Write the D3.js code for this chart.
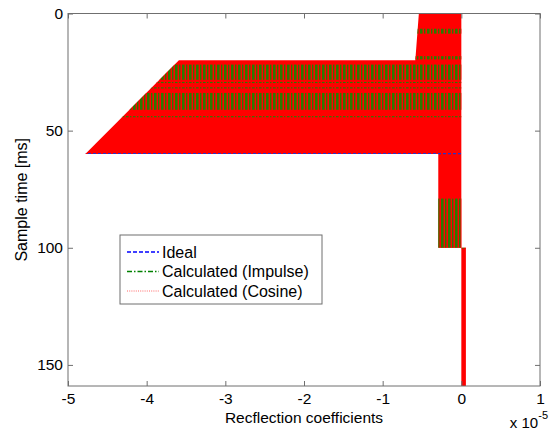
<html>
<head><meta charset="utf-8"></head>
<script src="https://d3js.org/d3.v7.min.js"></script>
<style>
body { margin: 0; background: white; }
svg { display: block; }
text { font-family: Arial, "Liberation Sans", sans-serif; fill: black; }
</style>
<body>
<svg width="550" height="430"></svg>
<script>
// tick values
var xTicks = [-5, -4, -3, -2, -1, 0, 1];
var yTicks = [0, 50, 100, 150];

// envelope of the dense "Cosine" trace (x in units of 1e-5, t in ms)
var cosineTime  = [0, 20, 20, 60, 60, 100, 100, 159];
var cosineLeft  = [-0.54, -0.585, -3.59, -4.78, -0.293, -0.293, 0, 0];
var cosineRight = [0, 0, 0, 0, 0, 0, 0.058, 0.058];

// time bands where the "Impulse" trace shows through
var impulseStart = [6.5, 18.2, 21.8, 29.2, 31.5, 33.9, 43.8, 79.0];
var impulseEnd   = [8.6, 19.6, 28.3, 29.7, 32.0, 41.1, 44.3, 100.3];

// time where the "Ideal" trace shows at an edge
var idealEdge = [60];

var legendNames  = ["Ideal", "Calculated (Impulse)", "Calculated (Cosine)"];
var legendColors = ["#0000ff", "#008000", "#ff0000"];
var legendDash   = ["4,2", "5,2,1.5,2", "1,1.2"];

var mLeft = 68, mRight = 540, mTop = 13.5, mBottom = 386;
var axisColor = "#6f6f6f";

var x = d3.scaleLinear().domain([-5, 1]).range([mLeft, mRight]);
var y = d3.scaleLinear().domain([0, 159]).range([mTop, mBottom]);

var svg = d3.select("svg");

var env = cosineTime.map(function(t, i) {
    return { t: t, l: cosineLeft[i], r: cosineRight[i] };
});

var area = d3.area()
    .y(function(d) { return y(d.t); })
    .x0(function(d) { return x(d.l); })
    .x1(function(d) { return x(d.r); });

var defs = svg.append("defs");
defs.append("clipPath").attr("id", "envClip")
    .append("path").attr("d", area(env));

var pat = defs.append("pattern")
    .attr("id", "stripes")
    .attr("patternUnits", "userSpaceOnUse")
    .attr("width", 7).attr("height", 10);
pat.append("rect").attr("width", 7).attr("height", 10).attr("fill", "#ff0000");
pat.append("rect").attr("x", 0).attr("width", 2.6).attr("height", 10).attr("fill", "#2c7a00");
pat.append("rect").attr("x", 4).attr("width", 1.4).attr("height", 10).attr("fill", "#2c7a00");

// red envelope
svg.append("path")
    .attr("d", area(env))
    .attr("fill", "#ff0000");

// impulse bands
svg.append("g").attr("clip-path", "url(#envClip)")
    .selectAll("rect")
    .data(impulseStart)
    .enter()
    .append("rect")
    .attr("x", x(-5))
    .attr("width", x(1) - x(-5))
    .attr("y", function(d) { return y(d); })
    .attr("height", function(d, i) { return Math.max(1, y(impulseEnd[i]) - y(d)); })
    .attr("fill", "url(#stripes)");

// ideal edge lines
svg.append("g").attr("clip-path", "url(#envClip)")
    .selectAll("line")
    .data(idealEdge)
    .enter()
    .append("line")
    .attr("x1", x(-5)).attr("x2", x(1))
    .attr("y1", function(d) { return y(d) - 0.5; })
    .attr("y2", function(d) { return y(d) - 0.5; })
    .attr("stroke", "#2233cc")
    .attr("stroke-width", 1.2)
    .attr("stroke-dasharray", "3,2");

// axes
var fmt = function(d) { return String(d); };
var xAxisB = d3.axisBottom(x).tickValues(xTicks).tickFormat(fmt).tickSizeInner(-5).tickSizeOuter(0).tickPadding(7);
var xAxisT = d3.axisTop(x).tickValues(xTicks).tickSizeInner(-5).tickSizeOuter(0).tickFormat("");
var yAxisL = d3.axisLeft(y).tickValues(yTicks).tickFormat(fmt).tickSizeInner(-5).tickSizeOuter(0).tickPadding(5);
var yAxisR = d3.axisRight(y).tickValues(yTicks).tickSizeInner(-5).tickSizeOuter(0).tickFormat("");

function styleAxis(g) {
    g.select(".domain").remove();
    g.selectAll("line").attr("stroke", axisColor);
    g.selectAll("text").attr("font-size", "15.5px").attr("fill", "black")
        .attr("font-family", "Arial, 'Liberation Sans', sans-serif");
}

svg.append("g").attr("transform", "translate(0," + mBottom + ")").call(xAxisB).call(styleAxis);
svg.append("g").attr("transform", "translate(0," + mTop + ")").call(xAxisT).call(styleAxis);
svg.append("g").attr("transform", "translate(" + mLeft + ",0)").call(yAxisL).call(styleAxis);
svg.append("g").attr("transform", "translate(" + mRight + ",0)").call(yAxisR).call(styleAxis);

svg.append("rect")
    .attr("x", mLeft).attr("y", mTop)
    .attr("width", mRight - mLeft).attr("height", mBottom - mTop)
    .attr("fill", "none")
    .attr("stroke", axisColor);

// labels
svg.append("text")
    .attr("x", (mLeft + mRight) / 2).attr("y", 423)
    .attr("text-anchor", "middle")
    .attr("font-size", "15.5px")
    .text("Recflection coefficients");

svg.append("text")
    .attr("transform", "translate(27," + (mTop + mBottom) / 2 + ") rotate(-90)")
    .attr("text-anchor", "middle")
    .attr("font-size", "16px")
    .text("Sample time [ms]");

var expo = svg.append("text")
    .attr("x", 548).attr("y", 428)
    .attr("text-anchor", "end")
    .attr("font-size", "15px");
expo.append("tspan").text("x 10");
expo.append("tspan").attr("font-size", "11px").attr("dy", -9).text("-5");

// legend
var lg = svg.append("g").attr("transform", "translate(120,235)");
lg.append("rect")
    .attr("width", 202).attr("height", 69)
    .attr("fill", "white")
    .attr("stroke", axisColor);

var items = lg.selectAll(".item")
    .data(legendNames)
    .enter()
    .append("g")
    .attr("class", "item")
    .attr("transform", function(d, i) { return "translate(0," + (17 + i * 19.5) + ")"; });

items.append("line")
    .attr("x1", 7).attr("x2", 39)
    .attr("stroke", function(d, i) { return legendColors[i]; })
    .attr("stroke-width", function(d, i) { return i == 2 ? 1 : 1.3; })
    .attr("stroke-opacity", function(d, i) { return i == 2 ? 0.6 : 1; })
    .attr("stroke-dasharray", function(d, i) { return legendDash[i]; });

items.append("text")
    .attr("x", 42)
    .attr("dy", "0.35em")
    .attr("font-size", "16px")
    .text(function(d) { return d; });
</script>
</body>
</html>
